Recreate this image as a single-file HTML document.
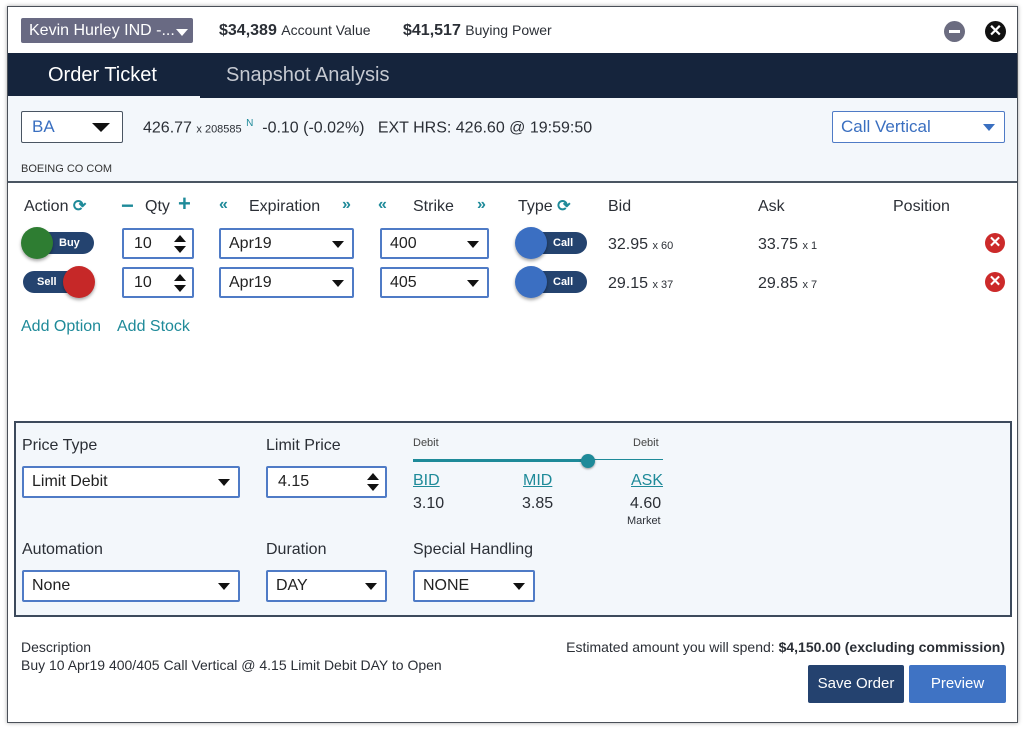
<!DOCTYPE html>
<html><head><style>
*{box-sizing:border-box;margin:0;padding:0}
body{width:1024px;height:730px;background:#fff;font-family:"Liberation Sans",sans-serif;color:#2b2f36;position:relative;overflow:hidden}
.a{position:absolute;white-space:nowrap}
.frame{position:absolute;left:7px;top:6px;width:1011px;height:717px;border:1px solid #4a5058;box-shadow:0 0 4px rgba(0,0,0,.35);background:#fff}
.lbl{font-size:16px;color:#2b2f36;line-height:18px}
.inp{position:absolute;background:#fff;border:2px solid #4f7bc6;border-radius:2px;font-size:16px;padding-left:8px;display:flex;align-items:center;color:#222}
.tri{position:absolute;right:8px;top:50%;margin-top:-3px;width:0;height:0;border-left:6px solid transparent;border-right:6px solid transparent;border-top:7px solid #111}
.spin{position:absolute;right:6px;top:50%;margin-top:-9px;width:12px;height:18px}
.spin:before{content:"";position:absolute;left:0;top:0;border-left:6px solid transparent;border-right:6px solid transparent;border-bottom:7px solid #111}
.spin:after{content:"";position:absolute;left:0;bottom:0;border-left:6px solid transparent;border-right:6px solid transparent;border-top:7px solid #111}
.teal{color:#1e8a99}
.pill{position:absolute;height:22px;background:#24436f;border-radius:11px;color:#fff;font-size:11px;font-weight:bold;display:flex;align-items:center}
.knob{position:absolute;width:32px;height:32px;border-radius:50%;box-shadow:0 2px 3px rgba(0,0,0,.35)}
.xr{position:absolute;width:20px;height:20px;border-radius:50%;background:#cc2a2a;color:#fff;font-size:15px;font-weight:bold;text-align:center;line-height:20px}
.sm{font-size:11px}
.ic{display:inline-block;line-height:18px;vertical-align:top;font-weight:bold}
</style></head><body>
<div class="frame"></div>
<div class="a" style="left:21px;top:18px;width:172px;height:25px;background:#696a83;border-radius:2px;color:#fff;font-size:16px;line-height:25px;padding-left:8px">Kevin Hurley IND -...<span style="position:absolute;right:5px;top:11px;border-left:6px solid transparent;border-right:6px solid transparent;border-top:7px solid #fff"></span></div>
<div class="a" style="left:219px;top:22px;font-size:16px;font-weight:bold">$34,389 <span style="font-size:14px;font-weight:normal">Account Value</span></div>
<div class="a" style="left:403px;top:22px;font-size:16px;font-weight:bold">$41,517 <span style="font-size:14px;font-weight:normal">Buying Power</span></div>
<div class="a" style="left:944px;top:21px;width:21px;height:21px;border-radius:50%;background:#6b6c80"><div style="position:absolute;left:5px;top:9px;width:11px;height:3px;background:#fff"></div></div>
<div class="a" style="left:985px;top:21px;width:21px;height:21px;border-radius:50%;background:#111;color:#fff;font-size:16px;font-weight:bold;text-align:center;line-height:21px">✕</div>
<div class="a" style="left:8px;top:53px;width:1009px;height:45px;background:#15243c"></div>
<div class="a" style="left:8px;top:96px;width:192px;height:3px;background:#f3f7fb"></div>
<div class="a" style="left:48px;top:64px;font-size:20px;color:#fff">Order Ticket</div>
<div class="a" style="left:226px;top:64px;font-size:20px;color:#c5c9d1">Snapshot Analysis</div>
<div class="a" style="left:8px;top:98px;width:1009px;height:85px;background:#f3f7fb;border-bottom:2px solid #4a5562"></div>
<div class="inp" style="left:21px;top:111px;width:102px;height:32px;border-color:#4a5562;border-width:1px;color:#3a6fc0;font-size:17px;padding-left:10px">BA<div class="tri" style="border-left-width:9px;border-right-width:9px;border-top-width:9px;right:12px;margin-top:-4px"></div></div>
<div class="a" style="left:143px;top:118px;font-size:16px">426.77 <span style="font-size:11px">x 208585</span> <sup class="teal" style="font-size:10px">N</sup>&nbsp; -0.10 (-0.02%)&nbsp;&nbsp; EXT HRS: 426.60 @ 19:59:50</div>
<div class="inp" style="left:832px;top:111px;width:173px;height:32px;color:#3a6fc0;font-size:17px;border-width:1px">Call Vertical<div class="tri" style="border-top-color:#3a6fc0;right:9px"></div></div>
<div class="a sm" style="left:21px;top:163px;color:#333">BOEING CO COM</div>
<div class="a lbl" style="left:24px;top:198px">Action <span class="teal ic">⟳</span></div>
<div class="a teal" style="left:121px;top:193px;font-size:22px;font-weight:bold">−</div>
<div class="a lbl" style="left:145px;top:198px">Qty</div>
<div class="a teal" style="left:178px;top:191px;font-size:22px;font-weight:bold">+</div>
<div class="a teal" style="left:219px;top:196px;font-size:16px;font-weight:bold">«</div>
<div class="a lbl" style="left:249px;top:198px">Expiration</div>
<div class="a teal" style="left:342px;top:196px;font-size:16px;font-weight:bold">»</div>
<div class="a teal" style="left:378px;top:196px;font-size:16px;font-weight:bold">«</div>
<div class="a lbl" style="left:413px;top:198px">Strike</div>
<div class="a teal" style="left:477px;top:196px;font-size:16px;font-weight:bold">»</div>
<div class="a lbl" style="left:518px;top:198px">Type <span class="teal ic">⟳</span></div>
<div class="a lbl" style="left:608px;top:198px">Bid</div>
<div class="a lbl" style="left:758px;top:198px">Ask</div>
<div class="a lbl" style="left:893px;top:198px">Position</div>
<div class="pill" style="left:23px;top:232px;width:71px;padding-left:36px">Buy</div>
<div class="knob" style="left:21px;top:227px;background:#2e7d32"></div>
<div class="inp" style="left:122px;top:228px;width:72px;height:31px;padding-left:10px">10<div class="spin"></div></div>
<div class="inp" style="left:219px;top:228px;width:135px;height:31px">Apr19<div class="tri"></div></div>
<div class="inp" style="left:380px;top:228px;width:109px;height:31px">400<div class="tri"></div></div>
<div class="pill" style="left:517px;top:232px;width:70px;padding-left:36px">Call</div>
<div class="knob" style="left:515px;top:227px;background:#3b6fc2"></div>
<div class="a" style="left:608px;top:236px;font-size:16px">32.95 <span class="sm">x 60</span></div>
<div class="a" style="left:758px;top:236px;font-size:16px">33.75 <span class="sm">x 1</span></div>
<div class="xr" style="left:985px;top:233px">✕</div>
<div class="pill" style="left:23px;top:271px;width:71px;padding-left:14px">Sell</div>
<div class="knob" style="left:63px;top:266px;background:#c62828"></div>
<div class="inp" style="left:122px;top:267px;width:72px;height:31px;padding-left:10px">10<div class="spin"></div></div>
<div class="inp" style="left:219px;top:267px;width:135px;height:31px">Apr19<div class="tri"></div></div>
<div class="inp" style="left:380px;top:267px;width:109px;height:31px">405<div class="tri"></div></div>
<div class="pill" style="left:517px;top:271px;width:70px;padding-left:36px">Call</div>
<div class="knob" style="left:515px;top:266px;background:#3b6fc2"></div>
<div class="a" style="left:608px;top:275px;font-size:16px">29.15 <span class="sm">x 37</span></div>
<div class="a" style="left:758px;top:275px;font-size:16px">29.85 <span class="sm">x 7</span></div>
<div class="xr" style="left:985px;top:272px">✕</div>
<div class="a teal" style="left:21px;top:318px;font-size:16px">Add Option</div>
<div class="a teal" style="left:117px;top:318px;font-size:16px">Add Stock</div>
<div class="a" style="left:14px;top:421px;width:998px;height:196px;background:#f3f7fb;border:2px solid #3d4a5c"></div>
<div class="a lbl" style="left:22px;top:437px">Price Type</div>
<div class="a lbl" style="left:266px;top:437px">Limit Price</div>
<div class="inp" style="left:22px;top:466px;width:218px;height:32px">Limit Debit<div class="tri"></div></div>
<div class="inp" style="left:266px;top:466px;width:121px;height:32px;padding-left:10px">4.15<div class="spin"></div></div>
<div class="a sm" style="left:413px;top:437px;color:#444">Debit</div>
<div class="a sm" style="left:633px;top:437px;color:#444">Debit</div>
<div class="a" style="left:413px;top:459px;width:250px;height:1px;background:#1e8a99"></div>
<div class="a" style="left:413px;top:459px;width:175px;height:3px;background:#1e8a99"></div>
<div class="a" style="left:581px;top:454px;width:14px;height:14px;border-radius:50%;background:#1e8a99;box-shadow:0 1px 2px rgba(0,0,0,.4)"></div>
<div class="a teal" style="left:413px;top:472px;font-size:16px;text-decoration:underline">BID</div>
<div class="a teal" style="left:523px;top:472px;font-size:16px;text-decoration:underline">MID</div>
<div class="a teal" style="left:631px;top:472px;font-size:16px;text-decoration:underline">ASK</div>
<div class="a" style="left:413px;top:495px;font-size:16px">3.10</div>
<div class="a" style="left:522px;top:495px;font-size:16px">3.85</div>
<div class="a" style="left:630px;top:495px;font-size:16px">4.60</div>
<div class="a sm" style="left:627px;top:515px">Market</div>
<div class="a lbl" style="left:22px;top:541px">Automation</div>
<div class="a lbl" style="left:266px;top:541px">Duration</div>
<div class="a lbl" style="left:413px;top:541px">Special Handling</div>
<div class="inp" style="left:22px;top:570px;width:218px;height:32px">None<div class="tri"></div></div>
<div class="inp" style="left:266px;top:570px;width:121px;height:32px">DAY<div class="tri"></div></div>
<div class="inp" style="left:413px;top:570px;width:122px;height:32px">NONE<div class="tri"></div></div>
<div class="a" style="left:21px;top:639px;font-size:14px">Description</div>
<div class="a" style="left:21px;top:657px;font-size:14px">Buy 10 Apr19 400/405 Call Vertical @ 4.15 Limit Debit DAY to Open</div>
<div class="a" style="right:19px;top:639px;font-size:14px">Estimated amount you will spend: <b>$4,150.00 (excluding commission)</b></div>
<div class="a" style="left:808px;top:665px;width:96px;height:38px;background:#24426f;border-radius:2px;color:#fff;font-size:15px;text-align:center;line-height:38px">Save Order</div>
<div class="a" style="left:909px;top:665px;width:97px;height:38px;background:#3f73c4;border-radius:2px;color:#fff;font-size:15px;text-align:center;line-height:38px">Preview</div>
</body></html>
